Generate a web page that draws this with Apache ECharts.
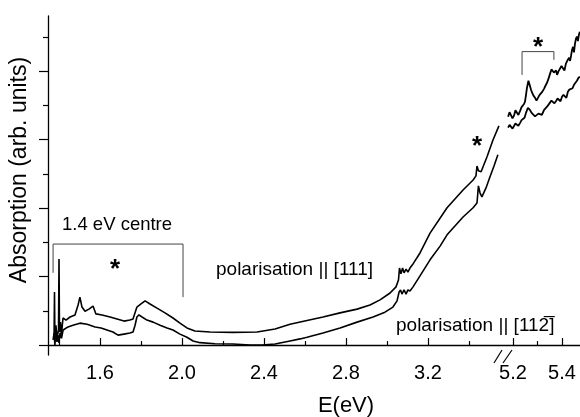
<!DOCTYPE html>
<html>
<head>
<meta charset="utf-8">
<script src="https://cdn.jsdelivr.net/npm/echarts@6/dist/echarts.min.js"></script>
<style>html,body{margin:0;padding:0;background:#fff}#c{width:580px;height:417px}</style>
</head>
<body>
<div id="c"></div>
<script>
// ---- data (E in eV, absorption in arb. units) ----
const e111L = [1.376,1.378,1.380,1.385,1.390,1.3976,1.400,1.4024,1.407,1.412,1.4195,1.434,1.454,1.478,1.493,1.502,1.512,1.527,1.546,1.566,1.580,1.610,1.649,1.683,1.717,1.746,1.761,1.780,1.800,1.820,1.844,1.878,1.917,1.956,1.990,2.024,2.063,2.137,2.249,2.366,2.454,2.527,2.610,2.688,2.771,2.854,2.917,2.966,3.015,3.044,3.056,3.061,3.068,3.076,3.083,3.093,3.102,3.112,3.127,3.161,3.210,3.293,3.371,3.420,3.434,3.439,3.446,3.459,3.488,3.517,3.546];
const a111L = [0.29,1.55,0.15,0.58,0.20,0.44,2.51,0.38,0.67,0.32,0.79,0.73,0.82,0.88,1.17,1.40,1.11,0.99,1.05,1.14,0.91,0.88,0.82,0.76,0.70,0.73,0.76,1.11,1.20,1.29,1.20,1.08,0.94,0.79,0.64,0.50,0.41,0.38,0.37,0.38,0.47,0.61,0.72,0.82,0.94,1.05,1.17,1.32,1.52,1.70,1.90,2.25,2.08,2.25,2.11,2.22,2.13,2.25,2.37,2.69,3.27,4.01,4.53,4.82,4.94,5.23,5.09,5.06,5.50,5.99,6.40];
const e111R = [5.180,5.186,5.192,5.198,5.204,5.210,5.216,5.222,5.229,5.235,5.241,5.245,5.249,5.253,5.257,5.263,5.269,5.274,5.278,5.284,5.290,5.296,5.302,5.308,5.314,5.320,5.327,5.333,5.339,5.345,5.351,5.357,5.363,5.367,5.371,5.376,5.380,5.386,5.392,5.398,5.404,5.410,5.416,5.422,5.429,5.433,5.437,5.441,5.445,5.449,5.453,5.457,5.461,5.465,5.469,5.473];
const a111R = [6.67,6.80,6.75,6.62,6.70,6.86,6.81,6.72,6.84,6.95,6.99,7.04,7.11,7.30,7.51,7.72,7.57,7.45,7.37,7.28,7.22,7.14,7.22,7.30,7.34,7.40,7.49,7.58,7.66,7.78,7.92,8.05,8.07,7.96,7.95,8.02,7.89,8.00,8.04,8.15,8.10,8.02,8.22,8.31,8.39,8.30,8.45,8.62,8.71,8.55,8.80,8.95,9.01,8.88,9.06,9.15];
const e112L = [1.371,1.376,1.380,1.385,1.390,1.395,1.400,1.405,1.412,1.420,1.444,1.468,1.502,1.537,1.576,1.605,1.634,1.663,1.688,1.717,1.746,1.761,1.771,1.780,1.790,1.805,1.829,1.859,1.893,1.927,1.956,1.990,2.024,2.054,2.088,2.161,2.249,2.332,2.390,2.454,2.527,2.576,2.610,2.688,2.771,2.854,2.932,2.990,3.029,3.049,3.059,3.066,3.073,3.083,3.093,3.102,3.112,3.127,3.161,3.210,3.259,3.293,3.371,3.420,3.439,3.446,3.454,3.463,3.483,3.502,3.522,3.541];
const a112L = [0.15,0.35,0.00,0.44,0.09,0.29,0.06,0.35,0.20,0.44,0.53,0.58,0.64,0.61,0.53,0.50,0.44,0.38,0.29,0.32,0.35,0.38,0.58,0.82,0.88,0.82,0.73,0.67,0.58,0.50,0.44,0.32,0.23,0.12,0.07,0.04,0.03,0.00,0.00,0.03,0.12,0.18,0.23,0.35,0.50,0.67,0.82,0.96,1.11,1.29,1.55,1.61,1.49,1.61,1.49,1.61,1.58,1.70,2.02,2.49,2.89,3.22,3.74,4.01,4.15,4.65,4.44,4.33,4.59,4.91,5.23,5.56];
const e112R = [5.180,5.186,5.192,5.198,5.204,5.210,5.216,5.222,5.229,5.235,5.241,5.247,5.253,5.261,5.269,5.276,5.282,5.290,5.298,5.304,5.310,5.318,5.327,5.333,5.339,5.345,5.351,5.357,5.363,5.369,5.376,5.382,5.388,5.394,5.400,5.406,5.412,5.418,5.424,5.430,5.437,5.443,5.449,5.455,5.461,5.467,5.473];
const a112R = [6.35,6.43,6.40,6.32,6.37,6.47,6.46,6.40,6.49,6.57,6.58,6.64,6.78,6.93,6.87,6.78,6.73,6.68,6.70,6.76,6.78,6.72,6.87,6.92,6.96,6.94,7.08,7.14,7.13,7.06,7.13,7.20,7.19,7.12,7.25,7.31,7.28,7.22,7.40,7.46,7.43,7.50,7.60,7.55,7.72,7.80,7.84];
// annotation brackets (E, absorption)
const bracketLeftE = [1.371,1.371,2.005,2.005];
const bracketLeftA = [2.11,2.95,2.95,1.40];
const bracketRightE = [5.237,5.237,5.367,5.367];
const bracketRightA = [7.89,8.57,8.57,8.33];
// axis ticks
const majorTickE = [1.6,2.0,2.4,2.8,3.2,5.2,5.4];
const majorTickLabels = ['1.6','2.0','2.4','2.8','3.2','5.2','5.4'];
const minorTickE = [1.4,1.8,2.2,2.6,3.0,3.4,5.3];
const yMajorTicks = [0,2,4,6,8];
const yMinorTicks = [1,3,5,7,9];

// broken x axis: E <= 3.6 linear, E >= 5.1 linear with another scale
const u = E => E < 4 ? E : 3.6146 + (E - 5.2) * 245 / 205;
const pts = (es, as) => es.map((e, i) => [u(e), as[i]]);
const majorU = majorTickE.map(u);

const FONT = 'Liberation Sans, Arial, Helvetica, sans-serif';
const lineS = (d, w, c) => ({type: 'line', data: d, showSymbol: false, symbol: 'none', silent: true,
  lineStyle: {color: c || '#000', width: w}, animation: false, z: 3});

const chart = echarts.init(document.getElementById('c'), null, {renderer: 'canvas'});
chart.setOption({
  animation: false,
  backgroundColor: '#fff',
  grid: {left: 48, right: 0, top: 16, bottom: 62},
  xAxis: [{
    type: 'value', min: 1.3463, max: 3.9415, position: 'bottom',
    axisLine: {lineStyle: {color: '#000', width: 1.3}},
    axisTick: {inside: true, length: 7, customValues: majorU, lineStyle: {color: '#000', width: 1.2}},
    axisLabel: {customValues: majorU, margin: 8, color: '#000', fontSize: 20, fontFamily: FONT,
      formatter: v => { let k = 0, best = 1e9; majorU.forEach((m, i) => { if (Math.abs(m - v) < best) { best = Math.abs(m - v); k = i; } }); return majorTickLabels[k]; }},
    splitLine: {show: false}
  }, {
    type: 'value', min: 1.3463, max: 3.9415, position: 'bottom',
    axisLine: {show: false},
    axisTick: {inside: true, length: 4, customValues: minorTickE.map(u), lineStyle: {color: '#000', width: 1.2}},
    axisLabel: {show: false}, splitLine: {show: false}
  }],
  yAxis: [{
    type: 'value', min: -0.29, max: 9.61, position: 'left',
    axisLine: {show: true, lineStyle: {color: '#000', width: 1.3}},
    axisTick: {show: true, inside: false, length: 9, customValues: yMajorTicks, lineStyle: {color: '#000', width: 1.2}},
    axisLabel: {show: false}, splitLine: {show: false}
  }, {
    type: 'value', min: -0.29, max: 9.61, position: 'left',
    axisLine: {show: false},
    axisTick: {show: true, inside: false, length: 5, customValues: yMinorTicks, lineStyle: {color: '#000', width: 1.2}},
    axisLabel: {show: false}, splitLine: {show: false}
  }],
  series: [
    lineS(pts(e111L, a111L), 1.6),
    lineS(pts(e111R, a111R), 1.8),
    lineS(pts(e112L, a112L), 1.6),
    lineS(pts(e112R, a112R), 1.8),
    lineS(pts(bracketLeftE, bracketLeftA), 1, '#444'),
    lineS(pts(bracketRightE, bracketRightA), 1, '#444')
  ],
  graphic: [
    {type: 'text', x: 20, y: 170, rotation: Math.PI / 2,
      style: {text: 'Absorption (arb. units)', font: '23px ' + FONT, fill: '#000', align: 'center', verticalAlign: 'middle'}},
    {type: 'text', x: 346, y: 406, style: {text: 'E(eV)', font: '22px ' + FONT, fill: '#000', align: 'center', verticalAlign: 'middle'}},
    {type: 'text', x: 62, y: 225, style: {text: '1.4 eV centre', font: '18.5px ' + FONT, fill: '#000', align: 'left', verticalAlign: 'middle'}},
    {type: 'text', x: 216, y: 270, style: {text: 'polarisation || [111]', font: '19px ' + FONT, fill: '#000', align: 'left', verticalAlign: 'middle'}},
    {type: 'text', x: 396, y: 326, style: {text: 'polarisation || [112\u0305]', font: '19px ' + FONT, fill: '#000', align: 'left', verticalAlign: 'middle'}},
    {type: 'text', x: 115, y: 270, style: {text: '*', font: 'bold 26px ' + FONT, fill: '#000', align: 'center', verticalAlign: 'middle'}},
    {type: 'text', x: 477, y: 147, style: {text: '*', font: 'bold 26px ' + FONT, fill: '#000', align: 'center', verticalAlign: 'middle'}},
    {type: 'text', x: 538, y: 48, style: {text: '*', font: 'bold 26px ' + FONT, fill: '#000', align: 'center', verticalAlign: 'middle'}},
    {type: 'line', shape: {x1: 494, y1: 363, x2: 502, y2: 350}, style: {stroke: '#000', lineWidth: 1.2}, z: 10},
    {type: 'line', shape: {x1: 503, y1: 363, x2: 512, y2: 350}, style: {stroke: '#000', lineWidth: 1.2}, z: 10},
    {type: 'rect', shape: {x: 499, y: 353, width: 8, height: 4}, style: {fill: '#fff'}, z: 9}
  ]
});
</script>
</body>
</html>
